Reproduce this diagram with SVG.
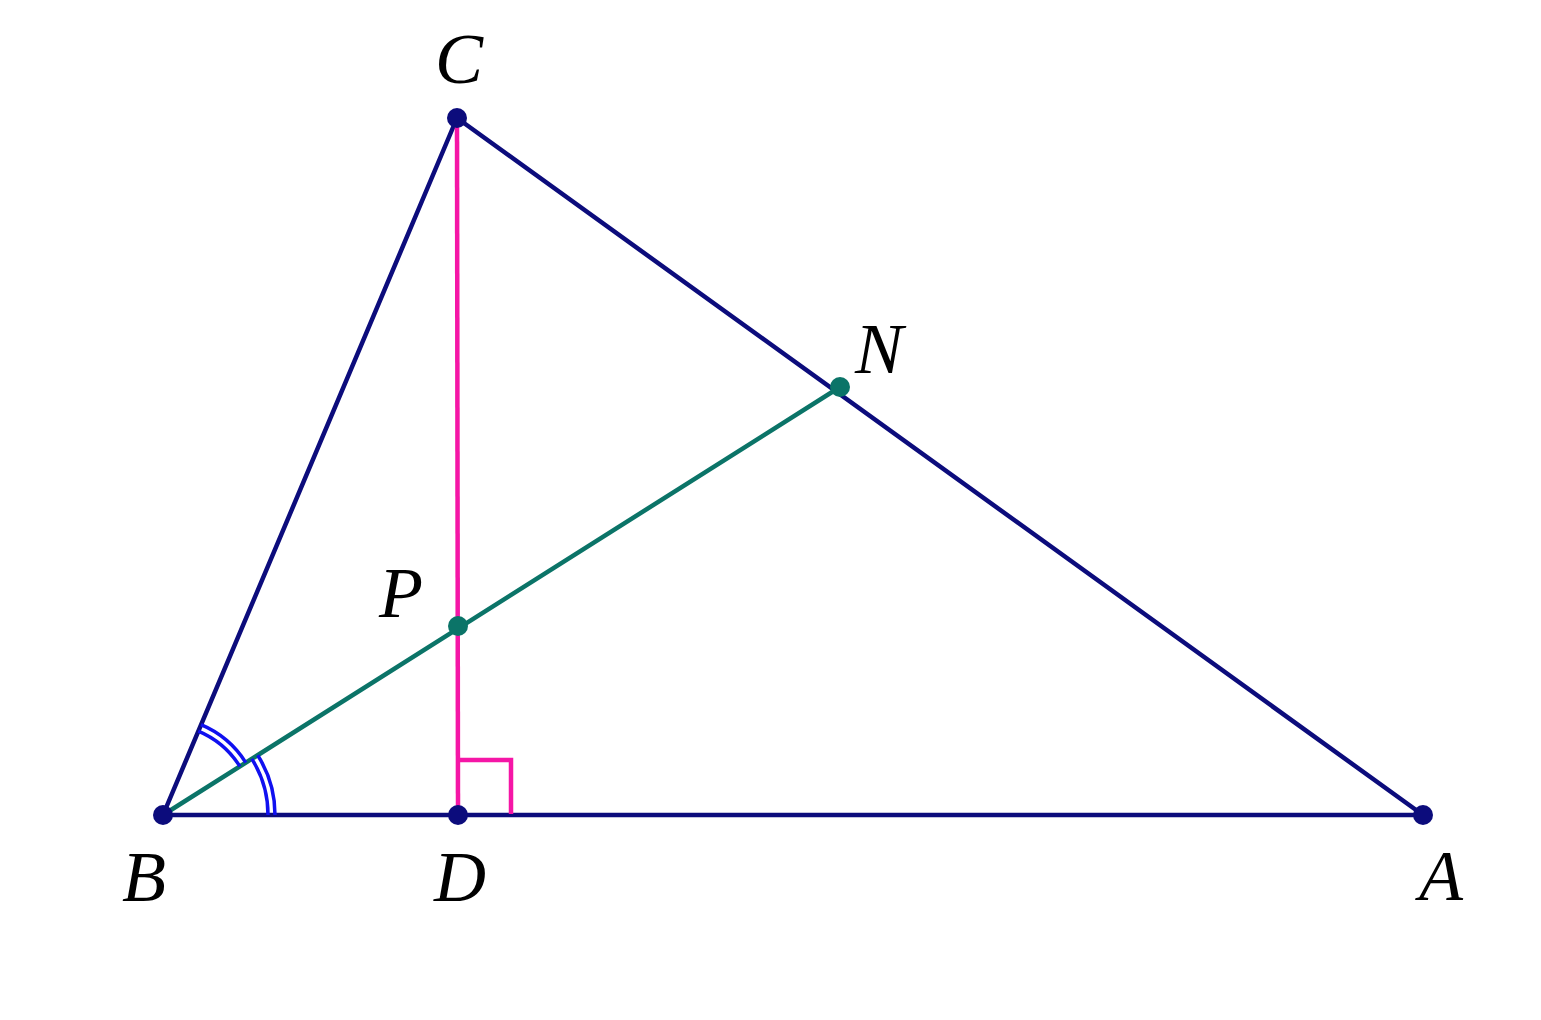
<svg xmlns="http://www.w3.org/2000/svg" width="1541" height="1020" viewBox="0 0 1541 1020">
<style>
.tri{stroke:#0c0c7c;stroke-width:4.5;fill:none;stroke-linecap:round}
.bis{stroke:#0b7468;stroke-width:4.5;fill:none;stroke-linecap:round}
.alt{stroke:#f516a6;stroke-width:4.5;fill:none}
.ang{stroke:#1010f0;stroke-width:3.5;fill:none}
.pt{fill:#0c0c7c}
.pt2{fill:#0b7468}
.lbl{font-family:"Liberation Serif","Times New Roman",serif;font-style:italic;font-size:72px;fill:#000}
</style>
<rect width="1541" height="1020" fill="#ffffff"/>
<g id="connectors">
<line class="tri" x1="163" y1="815" x2="1423" y2="815"/>
<line class="tri" x1="163" y1="815" x2="457" y2="118"/>
<line class="tri" x1="457" y1="118" x2="1423" y2="815"/>
<line class="alt" x1="457" y1="118" x2="458" y2="815"/>
<polyline class="alt" points="458,760 511,760 511,814"/>
<line class="bis" x1="163" y1="815" x2="840" y2="387"/>
<path class="ang" d="M 198.3,731.1 A 91 91 0 0 1 239.9,766.4"/>
<path class="ang" d="M 201.0,724.7 A 98 98 0 0 1 245.8,762.6"/>
<path class="ang" d="M 251.8,758.9 A 105 105 0 0 1 268,815"/>
<path class="ang" d="M 257.7,755.2 A 112 112 0 0 1 275,815"/>
</g>
<g id="node-B"><circle class="pt" cx="163" cy="815" r="10"/><text class="lbl" x="122" y="901">B</text></g>
<g id="node-D"><circle class="pt" cx="458" cy="815" r="10"/><text class="lbl" x="434" y="901">D</text></g>
<g id="node-A"><circle class="pt" cx="1423" cy="815" r="10"/><text class="lbl" x="1419" y="900">A</text></g>
<g id="node-C"><circle class="pt" cx="457" cy="118" r="10"/><text class="lbl" x="435" y="83">C</text></g>
<g id="node-N"><circle class="pt2" cx="840" cy="387" r="10"/><text class="lbl" x="855" y="373">N</text></g>
<g id="node-P"><circle class="pt2" cx="458" cy="626" r="10"/><text class="lbl" x="379" y="617">P</text></g>
</svg>
